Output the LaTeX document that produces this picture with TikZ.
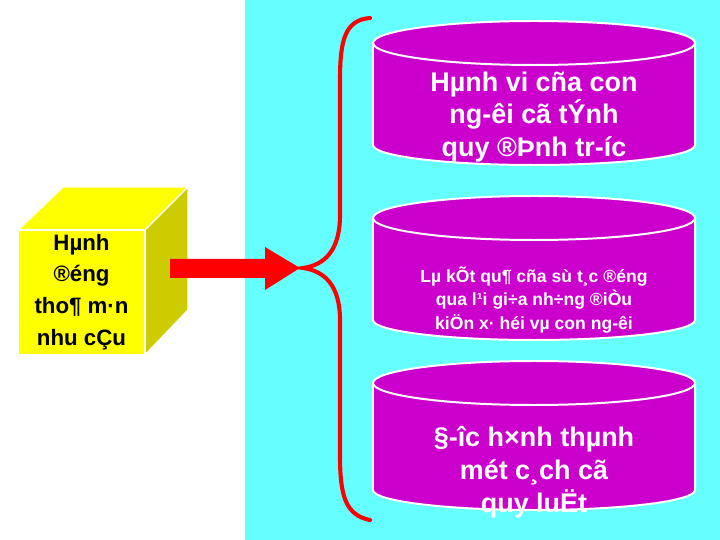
\documentclass[tikz,border=0pt]{standalone}
\usepackage{fontspec}
\setmainfont{Liberation Sans}
\definecolor{skyc}{HTML}{66FFFF}
\definecolor{purp}{HTML}{CC00CC}
\definecolor{yel}{HTML}{FFFF00}
\definecolor{yeldark}{HTML}{CCCC00}
\tikzset{
  cyltext/.style={text=white, font=\bfseries\fontsize{23}{28}\selectfont, align=center},
  cylface/.style={fill=purp, draw=white, line width=1.7pt},
}
% cylinder: top y, bottom y (pixel units)
\newcommand{\drum}[2]{%
  \draw[cylface] (373,#1) -- (373,#2) arc[start angle=180, end angle=0, x radius=161, y radius=20] -- (695,#1) -- cycle;
  \draw[cylface] (534,#1) ellipse[x radius=161, y radius=22];
}
\begin{document}
\begin{tikzpicture}[x=0.03cm, y=-0.03cm]
\useasboundingbox (0,0) rectangle (720,540);
\fill[white] (0,0) rectangle (720,540);
\fill[skyc] (245,0) rectangle (720,540);

% cube
\fill[yel, draw=white, line width=1.2pt] (18,230) -- (63,187) -- (188,187) -- (145,230) -- cycle;
\fill[yeldark, draw=white, line width=1.2pt] (145,230) -- (188,187) -- (188,310) -- (145,355) -- cycle;
\fill[yel, draw=white, line width=1.2pt] (18,230) rectangle (145,355);
\node (cube) [font=\bfseries\fontsize{19}{27}\selectfont, align=center] at (81.5,292) {Hµnh\\®éng\\tho¶ m·n\\nhu cÇu};

% brace
\coordinate (tip) at (303,268);
\draw[red, line width=3.5pt, line cap=round]
     (370,18) .. controls (345,20) and (340,40) .. (340,80)
  -- (340,215) .. controls (340,250) and (325,265) .. (tip)
     .. controls (325,271) and (340,286) .. (340,320)
  -- (340,455) .. controls (340,495) and (345,515) .. (370,520);

% arrow
\fill[red] (170,259) -- (265,259) -- (265,247) -- (300,268) -- (265,290) -- (265,278) -- (170,278) -- cycle;

% drums
\drum{43}{145}
\node (behav) [cyltext] at (534,117) {Hµnh vi cña con\\ ng-êi cã tÝnh\\ quy ®Þnh tr-íc};
\drum{218}{320}
\node (result) [cyltext, font=\bfseries\fontsize{15}{20}\selectfont] at (534,300) {Lµ kÕt qu¶ cña sù t¸c ®éng\\qua l¹i gi÷a nh÷ng ®iÒu\\kiÖn x· héi vµ con ng-êi};
\drum{383}{490}
\node (law) [cyltext] at (534,472) {§-îc h×nh thµnh\\mét c¸ch cã\\quy luËt};
\end{tikzpicture}
\end{document}
